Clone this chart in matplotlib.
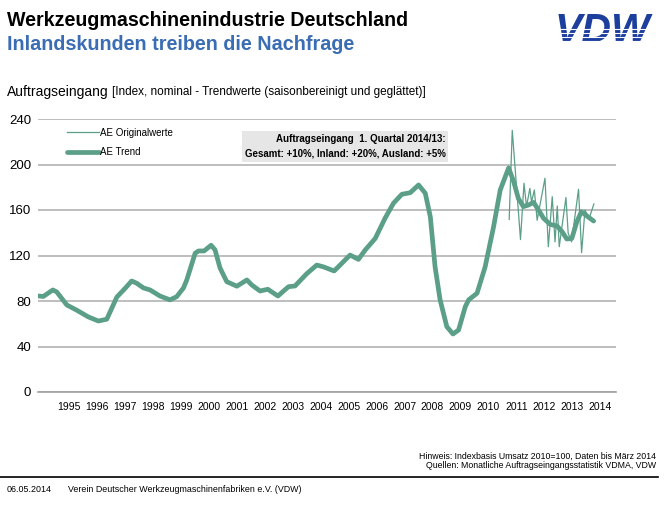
import matplotlib.pyplot as plt

plt.rcParams['font.family'] = ['Liberation Sans', 'DejaVu Sans']

# Trend values (index), x as fractional years
trend_x = [1994.34, 1994.52, 1994.86, 1995.00, 1995.36, 1995.71, 1996.13, 1996.49,
           1996.79, 1997.15, 1997.44, 1997.68, 1997.86, 1998.10, 1998.34, 1998.69,
           1999.05, 1999.29, 1999.53, 1999.65, 1999.95, 2000.07, 2000.27, 2000.52,
           2000.66, 2000.84, 2001.08, 2001.44, 2001.80, 2001.98, 2002.27, 2002.55,
           2002.91, 2003.29, 2003.52, 2003.94, 2004.30, 2004.54, 2004.92, 2005.25,
           2005.49, 2005.79, 2006.03, 2006.39, 2006.74, 2007.04, 2007.34, 2007.64,
           2007.94, 2008.18, 2008.36, 2008.53, 2008.71, 2008.95, 2009.17, 2009.37,
           2009.61, 2009.73, 2010.03, 2010.32, 2010.62, 2010.86, 2011.16, 2011.34,
           2011.51, 2011.69, 2011.87, 2012.05, 2012.23, 2012.41, 2012.65, 2012.89,
           2013.07, 2013.24, 2013.42, 2013.60, 2013.76, 2013.96, 2014.20]
trend_y = [84.4, 84.0, 89.7, 88.0, 76.5, 72.0, 66.0, 62.4,
           64.0, 83.5, 91.0, 97.6, 95.6, 91.5, 89.7, 84.4,
           81.0, 83.8, 91.4, 98.5, 122.0, 124.0, 124.0, 129.0,
           125.0, 109.0, 97.0, 93.0, 98.5, 94.0, 88.8, 90.3,
           84.4, 92.6, 93.2, 104.0, 111.6, 110.0, 106.4, 114.5,
           120.4, 116.6, 124.8, 135.0, 152.7, 165.9, 173.8, 175.2,
           182.0, 174.7, 154.0, 110.0, 81.0, 57.4, 51.0, 54.5,
           75.0, 81.0, 86.8, 110.0, 145.0, 177.6, 197.0, 185.0,
           170.0, 163.0, 164.4, 166.7, 160.0, 152.7, 147.3, 146.0,
           141.0, 134.5, 135.0, 149.7, 158.5, 154.7, 150.3]

# Original monthly values (only shown from 2011 on)
orig_x = [2011.18, 2011.29, 2011.585, 2011.71, 2011.80, 2011.92, 2011.98, 2012.08,
          2012.18, 2012.46, 2012.58, 2012.72, 2012.82, 2012.90, 2012.97, 2013.21,
          2013.29, 2013.41, 2013.66, 2013.77, 2013.89, 2014.04, 2014.21]
orig_y = [151.8, 230.0, 134.0, 183.5, 163.0, 179.0, 167.0, 177.6,
          151.0, 187.9, 127.7, 171.7, 132.0, 163.5, 127.7, 171.0,
          139.5, 132.0, 178.2, 122.5, 160.0, 152.7, 165.3]

years = list(range(1995, 2015))
yticks = [0, 40, 80, 120, 160, 200, 240]

green = '#5b9f88'

fig = plt.figure(figsize=(6.69, 5.05), dpi=100)
ax = fig.add_axes([38 / 669, 113 / 505, 578 / 669, 273 / 505])

ax.plot(orig_x, orig_y, color=green, lw=0.9, label='AE Originalwerte')
ax.plot(trend_x, trend_y, color=green, lw=3.4, solid_joinstyle='round',
        solid_capstyle='round', label='AE Trend')

ax.set_xlim(1994.33, 2015.0)
ax.set_ylim(0, 240)
ax.set_yticks(yticks)
ax.set_yticklabels([str(v) for v in yticks], fontsize=9.5)
ax.set_xticks([y + 0.44 for y in years])
ax.set_xticklabels([str(y) for y in years], fontsize=7.5)
ax.tick_params(length=0, pad=7)
ax.tick_params(axis='y', pad=5)
ax.grid(axis='y', color='#b3b3b3', lw=1.2)
ax.set_axisbelow(True)
for s in ['top', 'right', 'left']:
    ax.spines[s].set_visible(False)
ax.spines['bottom'].set_color('#a0a0a0')
ax.spines['bottom'].set_linewidth(1.2)

ax.legend(loc='upper left', bbox_to_anchor=(0.035, 1.0), frameon=False,
          fontsize=7, handlelength=3.3, handletextpad=0.1, labelspacing=1.0)

# info box
ax.text(0.705, 0.9, 'Auftragseingang  1. Quartal 2014/13:\nGesamt: +10%, Inland: +20%, Ausland: +5%',
        transform=ax.transAxes, ha='right', va='center', fontsize=7.0,
        fontweight='bold', linespacing=1.65,
        bbox=dict(boxstyle='square,pad=0.3', fc='#e6e6e6', ec='none'))

# header
fig.text(7 / 669, 1 - 20 / 505, 'Werkzeugmaschinenindustrie Deutschland',
         fontsize=14.1, fontweight='bold', va='center')
fig.text(7 / 669, 1 - 45 / 505, 'Inlandskunden treiben die Nachfrage',
         fontsize=14.2, fontweight='bold', va='center', color='#3a6db3')
fig.text(7 / 669, 1 - 92 / 505, 'Auftragseingang', fontsize=10, va='center')
fig.text(112 / 669, 1 - 92 / 505,
         '[Index, nominal - Trendwerte (saisonbereinigt und geglättet)]',
         fontsize=8.5, va='center')

# logo with white stripes over the lower half
fig.text(602 / 669, 1 - 31 / 505, 'VDW', fontsize=29.5, fontweight='bold',
         style='italic', color='#1c3f9e', ha='center', va='center', zorder=3)
for yy in [29, 33, 37, 41]:
    fig.add_artist(plt.Line2D([540 / 669, 664 / 669], [1 - yy / 505, 1 - yy / 505],
                              color='white', lw=0.8, zorder=5,
                              transform=fig.transFigure))

# footer
fig.text(656 / 669, 1 - 456 / 505,
         'Hinweis: Indexbasis Umsatz 2010=100, Daten bis März 2014',
         fontsize=6.35, ha='right', va='center')
fig.text(656 / 669, 1 - 466 / 505,
         'Quellen: Monatliche Auftragseingangsstatistik VDMA, VDW',
         fontsize=6.35, ha='right', va='center')
fig.add_artist(plt.Line2D([0, 658 / 669], [1 - 477 / 505, 1 - 477 / 505],
                          color='black', lw=1.2, transform=fig.transFigure))
fig.text(7 / 669, 1 - 489 / 505, '06.05.2014', fontsize=6.4, va='center')
fig.text(68 / 669, 1 - 489 / 505,
         'Verein Deutscher Werkzeugmaschinenfabriken e.V. (VDW)',
         fontsize=6.4, va='center')

fig.savefig('out.png', dpi=100)
